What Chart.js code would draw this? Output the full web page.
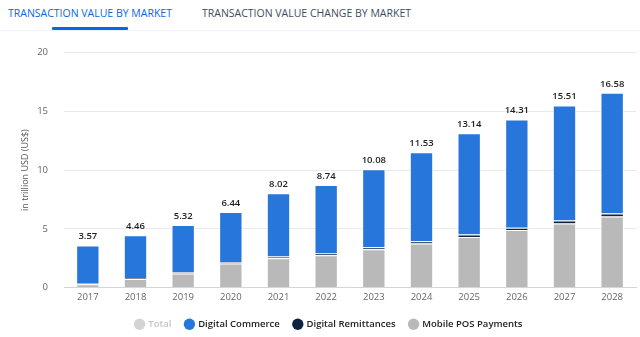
<!DOCTYPE html>
<html><head><meta charset="utf-8">
<script src="https://cdn.jsdelivr.net/npm/chart.js@4/dist/chart.umd.min.js"></script>
<style>
html,body{margin:0;padding:0;background:#fff;width:640px;height:337px;overflow:hidden;font-family:"Open Sans",sans-serif;position:relative;}
.tabs{position:absolute;left:0;top:0;width:640px;height:30px;border-bottom:1px solid #eef1f5;}
.tab{position:absolute;top:6px;font-size:10.5px;white-space:nowrap;}
.t1{left:8px;color:#0a66e4;}
.t2{left:202px;color:#3f4b5c;}
.ul{position:absolute;left:52px;top:27px;width:76px;height:3px;background:#0a66e4;border-radius:1px;}
#wrap{position:absolute;left:0;top:31px;width:640px;height:308px;}
</style></head>
<body>
<div class="tabs"><div class="tab t1">TRANSACTION VALUE BY MARKET</div><div class="tab t2">TRANSACTION VALUE CHANGE BY MARKET</div><div class="ul"></div></div>
<div id="wrap"><canvas id="c"></canvas></div>
<script>
const years = ['2017','2018','2019','2020','2021','2022','2023','2024','2025','2026','2027','2028'];
const total = [3.57,4.46,5.32,6.44,8.02,8.74,10.08,11.53,13.14,14.31,15.51,16.58];
const mobilePOS = [0.28,0.72,1.2,2.05,2.5,2.75,3.25,3.75,4.3,4.9,5.45,6.05];
const remittances = [0.05,0.08,0.1,0.12,0.13,0.15,0.17,0.2,0.22,0.2,0.25,0.25];
const digitalCommerce = [3.24,3.66,4.02,4.27,5.39,5.84,6.66,7.58,8.62,9.21,9.81,10.28];
const yTicks = [0,5,10,15,20];
const FONT = '"Open Sans", sans-serif';

const totalLabels = {
  id:'totalLabels',
  afterDatasetsDraw(chart){
    const ctx=chart.ctx, xs=chart.scales.x, ys=chart.scales.y;
    ctx.save();
    ctx.font='600 9.5px ' + FONT;
    ctx.fillStyle='#1e1e1e';
    ctx.textAlign='center';
    ctx.textBaseline='middle';
    total.forEach((v,i)=>{
      ctx.fillText(v.toFixed(2), xs.getPixelForValue(i), ys.getPixelForValue(v)-9);
    });
    ctx.restore();
  }
};

new Chart(document.getElementById('c'),{
  type:'bar',
  data:{labels:years,datasets:[
    {label:'Mobile POS Payments',data:mobilePOS,backgroundColor:'#b9b9b9',borderColor:'#ffffff',borderWidth:1},
    {label:'Digital Remittances',data:remittances,backgroundColor:'#0d2340',borderColor:'#ffffff',borderWidth:{top:1,bottom:0,left:1,right:1}},
    {label:'Digital Commerce',data:digitalCommerce,backgroundColor:'#2776dc',borderColor:'#ffffff',borderWidth:1}
  ]},
  options:{
    responsive:true,maintainAspectRatio:false,animation:false,
    layout:{padding:{left:22,right:4,top:11,bottom:0}},
    datasets:{bar:{barPercentage:0.49,categoryPercentage:1}},
    scales:{
      x:{stacked:true,afterFit:(s)=>{s.height=18;},
         grid:{display:false,drawTicks:true,tickLength:4,color:'#ccd6eb'},
         border:{color:'#ccd6eb',width:1},
         ticks:{color:'#666',font:{size:9.5,family:FONT},padding:0}},
      y:{stacked:true,min:0,max:20,afterFit:(s)=>{s.width=42;},
         afterBuildTicks:(s)=>{s.ticks=yTicks.map(v=>({value:v}));},
         grid:{color:'#e9e9e9',drawTicks:false},border:{display:false},
         ticks:{color:'#666',font:{size:9.5,family:FONT},padding:16},
         title:{display:true,text:'in trillion USD (US$)',color:'#555',font:{size:9,family:FONT},padding:{top:-2,bottom:0}}}
    },
    plugins:{
      tooltip:{enabled:false},
      legend:{position:'bottom',
        labels:{usePointStyle:true,pointStyle:'circle',boxWidth:8,boxHeight:8,padding:14,
          font:{size:9.5,family:FONT,weight:'600'},color:'#222',
          generateLabels(chart){
            const mk=(t,c,fc)=>({text:t,fillStyle:c,strokeStyle:c,lineWidth:0,pointStyle:'circle',fontColor:fc,hidden:false});
            return [mk('Total','#d4d4d4','#c4c4c4'),mk('Digital Commerce','#2776dc','#222'),mk('Digital Remittances','#0d2340','#222'),mk('Mobile POS Payments','#b9b9b9','#222')];
          }},
        onClick:()=>{}}
    }
  },
  plugins:[totalLabels]
});
</script>
</body></html>
